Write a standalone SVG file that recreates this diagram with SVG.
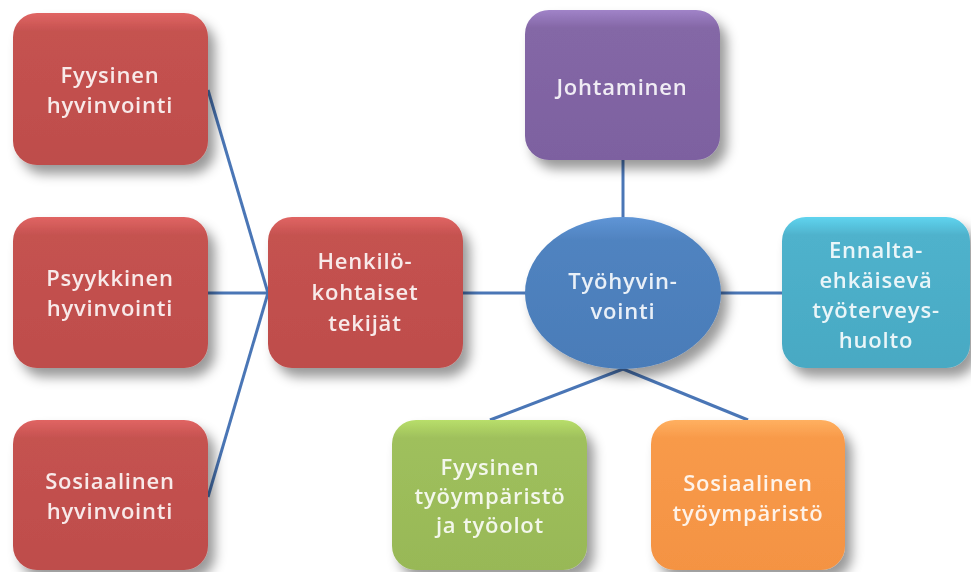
<svg xmlns="http://www.w3.org/2000/svg" width="971" height="572" viewBox="0 0 971 572">
<defs>
<filter id="sh" x="-20%" y="-20%" width="150%" height="150%">
<feDropShadow dx="7" dy="9" stdDeviation="6" flood-color="#000" flood-opacity="0.4"/>
</filter>
<linearGradient id="gRed" x1="0" y1="0" x2="0" y2="1"><stop offset="0" stop-color="#e06563"/><stop offset="0.12" stop-color="#c55250"/><stop offset="1" stop-color="#be4d4b"/></linearGradient>
<linearGradient id="gPur" x1="0" y1="0" x2="0" y2="1"><stop offset="0" stop-color="#a083c8"/><stop offset="0.12" stop-color="#8467a6"/><stop offset="1" stop-color="#7d61a0"/></linearGradient>
<linearGradient id="gBlu" x1="0" y1="0" x2="0" y2="1"><stop offset="0" stop-color="#5f95d6"/><stop offset="0.15" stop-color="#5083c0"/><stop offset="1" stop-color="#4a7cb8"/></linearGradient>
<linearGradient id="gAqu" x1="0" y1="0" x2="0" y2="1"><stop offset="0" stop-color="#5fd4ef"/><stop offset="0.12" stop-color="#4fb2cc"/><stop offset="1" stop-color="#48a9c3"/></linearGradient>
<linearGradient id="gGrn" x1="0" y1="0" x2="0" y2="1"><stop offset="0" stop-color="#b8de6a"/><stop offset="0.12" stop-color="#9fc05c"/><stop offset="1" stop-color="#98b857"/></linearGradient>
<linearGradient id="gOra" x1="0" y1="0" x2="0" y2="1"><stop offset="0" stop-color="#ffb060"/><stop offset="0.12" stop-color="#f89a4a"/><stop offset="1" stop-color="#f49343"/></linearGradient>
</defs>
<style>
.c{stroke:#4a76b6;stroke-width:3;fill:none}
.n{filter:url(#sh)}
.t{font-family:"Open Sans","Liberation Sans",sans-serif;font-weight:600;font-size:22px;letter-spacing:0.8px;fill:#fff;fill-opacity:0.88;text-anchor:middle}
</style>
<rect width="971" height="572" fill="#fff"/>
<g id="connectors">
<line class="c" x1="208" y1="90" x2="268" y2="293"/>
<line class="c" x1="208" y1="293" x2="268" y2="293"/>
<line class="c" x1="208" y1="497" x2="268" y2="293"/>
<line class="c" x1="463" y1="293" x2="526" y2="293"/>
<line class="c" x1="720" y1="293" x2="782" y2="293"/>
<line class="c" x1="623" y1="160" x2="623" y2="217"/>
<line class="c" x1="623" y1="369" x2="490" y2="420"/>
<line class="c" x1="623" y1="369" x2="748" y2="420"/>
</g>
<g id="fyysinen-hyvinvointi" class="n">
<rect x="13" y="13" width="195" height="152" rx="24" fill="url(#gRed)"/>
<text class="t" x="110" y="83">Fyysinen</text>
<text class="t" x="110" y="113">hyvinvointi</text>
</g>
<g id="psyykkinen-hyvinvointi" class="n">
<rect x="13" y="217" width="195" height="151" rx="24" fill="url(#gRed)"/>
<text class="t" x="110" y="286">Psyykkinen</text>
<text class="t" x="110" y="316">hyvinvointi</text>
</g>
<g id="sosiaalinen-hyvinvointi" class="n">
<rect x="13" y="420" width="195" height="150" rx="24" fill="url(#gRed)"/>
<text class="t" x="110" y="489">Sosiaalinen</text>
<text class="t" x="110" y="519">hyvinvointi</text>
</g>
<g id="henkilokohtaiset" class="n">
<rect x="268" y="217" width="195" height="151" rx="24" fill="url(#gRed)"/>
<text class="t" x="365" y="269">Henkilö-</text>
<text class="t" x="365" y="300">kohtaiset</text>
<text class="t" x="365" y="331">tekijät</text>
</g>
<g id="johtaminen" class="n">
<rect x="525" y="10" width="195" height="150" rx="24" fill="url(#gPur)"/>
<text class="t" x="622" y="95">Johtaminen</text>
</g>
<g id="tyohyvinvointi" class="n">
<ellipse cx="623" cy="293" rx="98" ry="76" fill="url(#gBlu)"/>
<text class="t" x="623" y="289">Työhyvin-</text>
<text class="t" x="623" y="319">vointi</text>
</g>
<g id="ennalta" class="n">
<rect x="782" y="217" width="188" height="151" rx="24" fill="url(#gAqu)"/>
<text class="t" x="876" y="258">Ennalta-</text>
<text class="t" x="876" y="288">ehkäisevä</text>
<text class="t" x="876" y="318">työterveys-</text>
<text class="t" x="876" y="348">huolto</text>
</g>
<g id="fyysinen-tyoymparisto" class="n">
<rect x="392" y="420" width="195" height="150" rx="24" fill="url(#gGrn)"/>
<text class="t" x="490" y="475">Fyysinen</text>
<text class="t" x="490" y="504">työympäristö</text>
<text class="t" x="490" y="533">ja työolot</text>
</g>
<g id="sosiaalinen-tyoymparisto" class="n">
<rect x="651" y="420" width="194" height="150" rx="24" fill="url(#gOra)"/>
<text class="t" x="748" y="491">Sosiaalinen</text>
<text class="t" x="748" y="521">työympäristö</text>
</g>
</svg>
